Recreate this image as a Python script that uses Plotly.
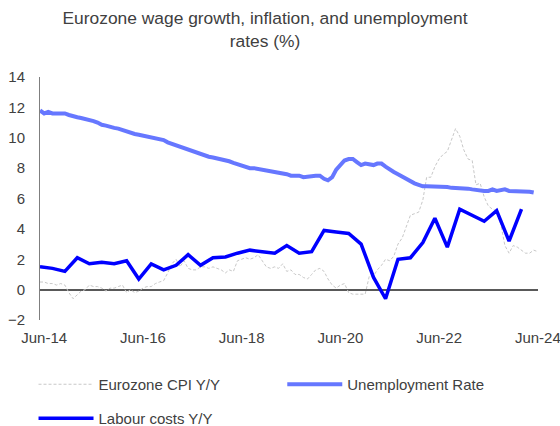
import pandas as pd
import plotly.graph_objects as go

# ---------------- data ----------------
monthly_start = "2014-05-01"

unemployment_rate = [
    11.8, 11.6, 11.7, 11.6, 11.6, 11.6, 11.6, 11.5, 11.4, 11.35, 11.3, 11.25,
    11.2, 11.1, 11.0, 10.85, 10.8, 10.7, 10.65, 10.6, 10.5, 10.4, 10.3, 10.25,
    10.2, 10.15, 10.05, 10.0, 9.95, 9.9, 9.85, 9.7, 9.6, 9.5, 9.4, 9.3,
    9.2, 9.1, 9.0, 8.95, 8.85, 8.75, 8.7, 8.65, 8.6, 8.5, 8.45, 8.35,
    8.25, 8.15, 8.05, 8.0, 8.0, 7.95, 7.9, 7.9, 7.85, 7.8, 7.75, 7.65,
    7.6, 7.5, 7.5, 7.5, 7.4, 7.45, 7.5, 7.5, 7.5, 7.3, 7.2, 7.4,
    7.9, 8.2, 8.5, 8.6, 8.6, 8.4, 8.2, 8.3, 8.25, 8.2, 8.3, 8.3,
    8.1, 7.9, 7.75, 7.6, 7.45, 7.25, 7.1, 7.0, 6.9, 6.8, 6.8, 6.8,
    6.8, 6.8, 6.8, 6.75, 6.7, 6.7, 6.7, 6.7, 6.65, 6.6, 6.55, 6.5,
    6.5, 6.5, 6.6, 6.5, 6.55, 6.6, 6.5, 6.5, 6.5, 6.5, 6.5, 6.45,
    6.4,
]

cpi_yoy = [
    0.5, 0.5, 0.4, 0.4, 0.3, 0.4, 0.3, -0.2,
    -0.6, -0.3, -0.1, 0.0, 0.3, 0.2, 0.2, 0.1, -0.1, 0.1, 0.1, 0.2,
    0.3, -0.2, 0.0, -0.2, -0.1, 0.1, 0.2, 0.2, 0.4, 0.5, 0.6, 1.1,
    1.7, 2.0, 1.5, 1.9, 1.4, 1.3, 1.3, 1.5, 1.5, 1.4, 1.5, 1.4,
    1.3, 1.1, 1.3, 1.2, 1.9, 2.0, 2.1, 2.0, 2.1, 2.3, 1.9, 1.5,
    1.4, 1.5, 1.4, 1.7, 1.2, 1.3, 1.0, 1.0, 0.8, 0.7, 1.0, 1.3,
    1.4, 1.2, 0.7, 0.3, 0.1, 0.3, 0.4, -0.2, -0.3, -0.3, -0.3, -0.3,
    0.9, 0.9, 1.3, 1.6, 2.0, 1.9, 2.2, 3.0, 3.4, 4.1, 4.9, 5.0,
    5.1, 5.9, 7.4, 7.4, 8.1, 8.6, 8.9, 9.1, 9.9, 10.6, 10.1, 9.2,
    8.6, 8.5, 6.9, 7.0, 6.1, 5.5, 5.3, 5.2, 4.3, 2.9, 2.4, 2.9,
    2.8, 2.6, 2.4, 2.4, 2.6, 2.5,
]

labour_costs_yoy = [
    1.5, 1.4, 1.2, 2.1, 1.7, 1.8, 1.7, 1.9,
    0.7, 1.7, 1.3, 1.6, 2.3, 1.6, 2.1, 2.15,
    2.4, 2.6, 2.5, 2.4, 2.9, 2.4, 2.5, 3.9,
    3.8, 3.7, 3.0, 0.8, -0.6, 2.0, 2.1, 3.1,
    4.7, 2.8, 5.3, 4.9, 4.5, 5.2, 3.2, 5.3,
]

tick_dates = ["2014-06-01", "2016-06-01", "2018-06-01", "2020-06-01", "2022-06-01", "2024-06-01"]
tick_labels = ["Jun-14", "Jun-16", "Jun-18", "Jun-20", "Jun-22", "Jun-24"]
y_ticks = [-2, 0, 2, 4, 6, 8, 10, 12, 14]

months_unemp = pd.date_range(monthly_start, periods=len(unemployment_rate), freq="MS")
months_cpi = pd.date_range(monthly_start, periods=len(cpi_yoy), freq="MS")
quarters_lc = pd.date_range(monthly_start, periods=len(labour_costs_yoy), freq="3MS")

TEXT = "#404040"
FONT = "Liberation Sans, Arial, sans-serif"

fig = go.Figure()
fig.add_trace(go.Scatter(
    x=months_cpi, y=cpi_yoy, mode="lines", name="Eurozone CPI Y/Y",
    line=dict(color="#C8C8C8", width=1, dash="3px,2px"), legend="legend",
))
fig.add_trace(go.Scatter(
    x=months_unemp, y=unemployment_rate, mode="lines", name="Unemployment Rate",
    line=dict(color="#6677FF", width=4), legend="legend2",
))
fig.add_trace(go.Scatter(
    x=quarters_lc, y=labour_costs_yoy, mode="lines", name="Labour costs Y/Y",
    line=dict(color="#0000FF", width=3.5), legend="legend3",
))

legend_common = dict(
    orientation="h", xanchor="left", yanchor="top", itemwidth=55,
    font=dict(size=15, color=TEXT, family=FONT), bgcolor="rgba(0,0,0,0)",
)

fig.update_layout(
    width=560, height=426,
    margin=dict(l=39.5, r=22, t=77, b=106, autoexpand=False),
    paper_bgcolor="white", plot_bgcolor="white",
    font=dict(family=FONT, color=TEXT, size=15),
    title=dict(
        text="Eurozone wage growth, inflation, and unemployment<br>rates (%)",
        x=265 / 560, xanchor="center", xref="container",
        y=0.9427, yanchor="top", yref="container",
        font=dict(size=17.4, color=TEXT, family=FONT),
    ),
    xaxis=dict(
        type="date", range=["2014-05-01", "2024-06-02"],
        tickvals=tick_dates, ticktext=tick_labels,
        showgrid=False, zeroline=False, showline=False, ticks="",
        tickfont=dict(size=15, color=TEXT), automargin=False,
        ticklabelstandoff=7, ticklabeloverflow="allow",
    ),
    yaxis=dict(
        range=[-2, 14], tickvals=y_ticks,
        showgrid=False, zeroline=True, zerolinecolor="#595959", zerolinewidth=1.5,
        showline=True, linecolor="#7F7F7F", linewidth=1, ticks="",
        tickfont=dict(size=15, color=TEXT), automargin=False,
        ticklabelstandoff=11, ticklabeloverflow="allow",
    ),
    legend=dict(x=-0.013, y=-0.1975, **legend_common),
    legend2=dict(x=0.4865, y=-0.1975, **legend_common),
    legend3=dict(x=-0.013, y=-0.3374, **legend_common),
    showlegend=True,
)

fig.write_html(
    "out.html",
    config={"displayModeBar": False},
    post_script="document.body.style.margin='0';document.body.style.overflow='hidden';",
)
